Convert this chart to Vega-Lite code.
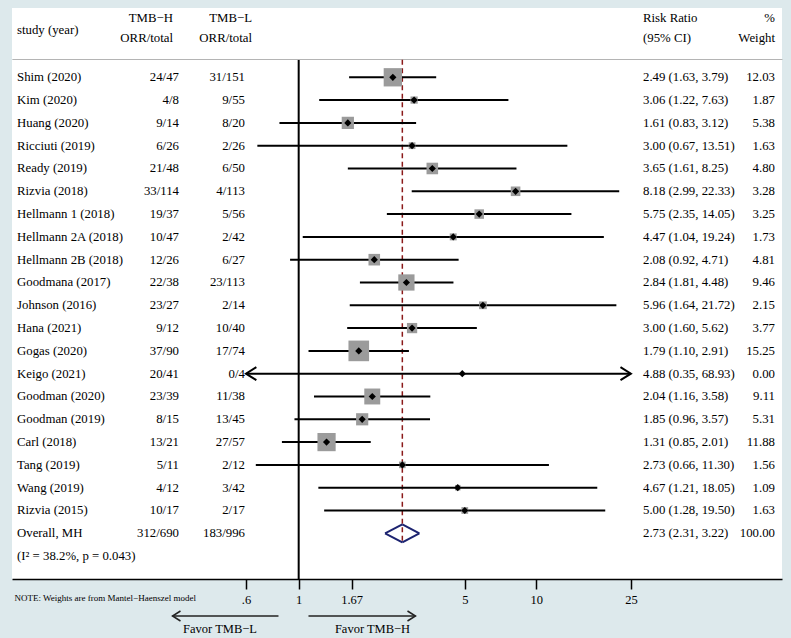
{
  "$schema": "https://vega.github.io/schema/vega-lite/v6.json",
  "padding": {"left": 12, "top": 8, "right": 9, "bottom": 4},
  "background": "#dde9ec",
  "spacing": 0,
  "config": {
    "view": {"stroke": null},
    "text": {"font": "Liberation Serif", "fontSize": 12.8, "color": "#000000", "baseline": "middle"},
    "axis": {"labelFont": "Liberation Serif", "titleFont": "Liberation Serif", "grid": false}
  },
  "vconcat": [
    {
      "width": 770,
      "height": 51,
      "view": {"fill": "white", "stroke": null},
      "data": {"values": [{}]},
      "layer": [
        {"mark": {"type": "text", "text": "study (year)", "align": "left", "dy": -4},
         "encoding": {"x": {"datum": 0.06527, "type": "quantitative", "scale": {"type": "log", "domain": [0.06217, 108.11], "nice": false}, "axis": {"domain": true, "domainColor": "#b4b4b4", "domainWidth": 1, "ticks": false, "labels": false, "title": null, "grid": false}}}},
        {"mark": {"type": "text", "text": "TMB−H", "align": "right", "dy": -15.5},
         "encoding": {"x": {"datum": 0.2958, "type": "quantitative", "scale": {"type": "log", "domain": [0.06217, 108.11], "nice": false}, "axis": {"domain": true, "domainColor": "#b4b4b4", "domainWidth": 1, "ticks": false, "labels": false, "title": null, "grid": false}}}},
        {"mark": {"type": "text", "text": "ORR/total", "align": "right", "dy": 4.5},
         "encoding": {"x": {"datum": 0.2958, "type": "quantitative", "scale": {"type": "log", "domain": [0.06217, 108.11], "nice": false}, "axis": {"domain": true, "domainColor": "#b4b4b4", "domainWidth": 1, "ticks": false, "labels": false, "title": null, "grid": false}}}},
        {"mark": {"type": "text", "text": "TMB−L", "align": "right", "dy": -15.5},
         "encoding": {"x": {"datum": 0.636, "type": "quantitative", "scale": {"type": "log", "domain": [0.06217, 108.11], "nice": false}, "axis": {"domain": true, "domainColor": "#b4b4b4", "domainWidth": 1, "ticks": false, "labels": false, "title": null, "grid": false}}}},
        {"mark": {"type": "text", "text": "ORR/total", "align": "right", "dy": 4.5},
         "encoding": {"x": {"datum": 0.636, "type": "quantitative", "scale": {"type": "log", "domain": [0.06217, 108.11], "nice": false}, "axis": {"domain": true, "domainColor": "#b4b4b4", "domainWidth": 1, "ticks": false, "labels": false, "title": null, "grid": false}}}},
        {"mark": {"type": "text", "text": "Risk Ratio", "align": "left", "dy": -15.5},
         "encoding": {"x": {"datum": 28.11, "type": "quantitative", "scale": {"type": "log", "domain": [0.06217, 108.11], "nice": false}, "axis": {"domain": true, "domainColor": "#b4b4b4", "domainWidth": 1, "ticks": false, "labels": false, "title": null, "grid": false}}}},
        {"mark": {"type": "text", "text": "(95% CI)", "align": "left", "dy": 4.5},
         "encoding": {"x": {"datum": 28.11, "type": "quantitative", "scale": {"type": "log", "domain": [0.06217, 108.11], "nice": false}, "axis": {"domain": true, "domainColor": "#b4b4b4", "domainWidth": 1, "ticks": false, "labels": false, "title": null, "grid": false}}}},
        {"mark": {"type": "text", "text": "%", "align": "right", "dy": -15.5},
         "encoding": {"x": {"datum": 101.02, "type": "quantitative", "scale": {"type": "log", "domain": [0.06217, 108.11], "nice": false}, "axis": {"domain": true, "domainColor": "#b4b4b4", "domainWidth": 1, "ticks": false, "labels": false, "title": null, "grid": false}}}},
        {"mark": {"type": "text", "text": "Weight", "align": "right", "dy": 4.5},
         "encoding": {"x": {"datum": 101.02, "type": "quantitative", "scale": {"type": "log", "domain": [0.06217, 108.11], "nice": false}, "axis": {"domain": true, "domainColor": "#b4b4b4", "domainWidth": 1, "ticks": false, "labels": false, "title": null, "grid": false}}}}
      ]
    },
    {
      "width": 770,
      "height": 519,
      "view": {"fill": "white", "stroke": null},
      "data": {"values": [
        {"study": "Shim (2020)", "type": "study", "h": "24/47", "l": "31/151", "est": 2.49, "lo": 1.63, "hi": 3.79, "ci": "2.49 (1.63, 3.79)", "weight": 12.03},
        {"study": "Kim (2020)", "type": "study", "h": "4/8", "l": "9/55", "est": 3.06, "lo": 1.22, "hi": 7.63, "ci": "3.06 (1.22, 7.63)", "weight": 1.87},
        {"study": "Huang (2020)", "type": "study", "h": "9/14", "l": "8/20", "est": 1.61, "lo": 0.83, "hi": 3.12, "ci": "1.61 (0.83, 3.12)", "weight": 5.38},
        {"study": "Ricciuti (2019)", "type": "study", "h": "6/26", "l": "2/26", "est": 3.0, "lo": 0.67, "hi": 13.51, "ci": "3.00 (0.67, 13.51)", "weight": 1.63},
        {"study": "Ready (2019)", "type": "study", "h": "21/48", "l": "6/50", "est": 3.65, "lo": 1.61, "hi": 8.25, "ci": "3.65 (1.61, 8.25)", "weight": 4.8},
        {"study": "Rizvia (2018)", "type": "study", "h": "33/114", "l": "4/113", "est": 8.18, "lo": 2.99, "hi": 22.33, "ci": "8.18 (2.99, 22.33)", "weight": 3.28},
        {"study": "Hellmann 1 (2018)", "type": "study", "h": "19/37", "l": "5/56", "est": 5.75, "lo": 2.35, "hi": 14.05, "ci": "5.75 (2.35, 14.05)", "weight": 3.25},
        {"study": "Hellmann 2A (2018)", "type": "study", "h": "10/47", "l": "2/42", "est": 4.47, "lo": 1.04, "hi": 19.24, "ci": "4.47 (1.04, 19.24)", "weight": 1.73},
        {"study": "Hellmann 2B (2018)", "type": "study", "h": "12/26", "l": "6/27", "est": 2.08, "lo": 0.92, "hi": 4.71, "ci": "2.08 (0.92, 4.71)", "weight": 4.81},
        {"study": "Goodmana (2017)", "type": "study", "h": "22/38", "l": "23/113", "est": 2.84, "lo": 1.81, "hi": 4.48, "ci": "2.84 (1.81, 4.48)", "weight": 9.46},
        {"study": "Johnson (2016)", "type": "study", "h": "23/27", "l": "2/14", "est": 5.96, "lo": 1.64, "hi": 21.72, "ci": "5.96 (1.64, 21.72)", "weight": 2.15},
        {"study": "Hana (2021)", "type": "study", "h": "9/12", "l": "10/40", "est": 3.0, "lo": 1.6, "hi": 5.62, "ci": "3.00 (1.60, 5.62)", "weight": 3.77},
        {"study": "Gogas (2020)", "type": "study", "h": "37/90", "l": "17/74", "est": 1.79, "lo": 1.1, "hi": 2.91, "ci": "1.79 (1.10, 2.91)", "weight": 15.25},
        {"study": "Keigo (2021)", "type": "study", "h": "20/41", "l": "0/4", "est": 4.88, "lo": 0.35, "hi": 68.93, "ci": "4.88 (0.35, 68.93)", "weight": 0.0},
        {"study": "Goodman (2020)", "type": "study", "h": "23/39", "l": "11/38", "est": 2.04, "lo": 1.16, "hi": 3.58, "ci": "2.04 (1.16, 3.58)", "weight": 9.11},
        {"study": "Goodman (2019)", "type": "study", "h": "8/15", "l": "13/45", "est": 1.85, "lo": 0.96, "hi": 3.57, "ci": "1.85 (0.96, 3.57)", "weight": 5.31},
        {"study": "Carl (2018)", "type": "study", "h": "13/21", "l": "27/57", "est": 1.31, "lo": 0.85, "hi": 2.01, "ci": "1.31 (0.85, 2.01)", "weight": 11.88},
        {"study": "Tang (2019)", "type": "study", "h": "5/11", "l": "2/12", "est": 2.73, "lo": 0.66, "hi": 11.3, "ci": "2.73 (0.66, 11.30)", "weight": 1.56},
        {"study": "Wang (2019)", "type": "study", "h": "4/12", "l": "3/42", "est": 4.67, "lo": 1.21, "hi": 18.05, "ci": "4.67 (1.21, 18.05)", "weight": 1.09},
        {"study": "Rizvia (2015)", "type": "study", "h": "10/17", "l": "2/17", "est": 5.0, "lo": 1.28, "hi": 19.5, "ci": "5.00 (1.28, 19.50)", "weight": 1.63},
        {"study": "Overall, MH", "type": "overall", "h": "312/690", "l": "183/996", "est": 2.73, "lo": 2.31, "hi": 3.22, "ci": "2.73 (2.31, 3.22)", "weight": 100.0},
        {"study": "(I² = 38.2%, p = 0.043)", "type": "note"}
      ]},
      "layer": [
        {"data": {"values": [{}]},
         "mark": {"type": "rule", "color": "#000000", "strokeWidth": 2},
         "encoding": {"x": {"datum": 1, "type": "quantitative", "scale": {"type": "log", "domain": [0.06217, 108.11], "nice": false},
           "axis": {"values": [0.6, 1, 1.67, 5, 10, 25], "format": "~g", "labelExpr": "datum.value == 0.6 ? '.6' : datum.label", "domain": true, "domainColor": "#000000", "domainWidth": 1.5, "ticks": true, "tickColor": "#000000", "tickWidth": 1.5, "tickSize": 10, "labels": true, "labelFontSize": 12.5, "labelColor": "#000000", "labelPadding": 4, "labelFlush": false, "labelOverlap": false, "grid": false,
             "title": "NOTE: Weights are from Mantel−Haenszel model", "titleFontSize": 9, "titleFontWeight": "normal", "titleColor": "#000000", "titleAnchor": "start", "titleAlign": "left", "titleBaseline": "middle", "titleX": 2, "titleY": 18}}}},
        {"transform": [{"filter": "datum.type == 'overall'"}],
         "mark": {"type": "rule", "color": "#8b1a1a", "strokeWidth": 1.5, "strokeDash": [5, 3.5], "yOffset": -17.5, "y2Offset": 10},
         "encoding": {"x": {"field": "est", "type": "quantitative", "scale": {"type": "log", "domain": [0.06217, 108.11], "nice": false}},
           "y": {"datum": "Shim (2020)", "type": "nominal", "scale": {"type": "point", "domain": ["Shim (2020)", "Kim (2020)", "Huang (2020)", "Ricciuti (2019)", "Ready (2019)", "Rizvia (2018)", "Hellmann 1 (2018)", "Hellmann 2A (2018)", "Hellmann 2B (2018)", "Goodmana (2017)", "Johnson (2016)", "Hana (2021)", "Gogas (2020)", "Keigo (2021)", "Goodman (2020)", "Goodman (2019)", "Carl (2018)", "Tang (2019)", "Wang (2019)", "Rizvia (2015)", "Overall, MH", "(I² = 38.2%, p = 0.043)"], "padding": 0.8816, "align": 0.43}, "axis": null},
           "y2": {"datum": "Overall, MH"}}},
        {"transform": [{"filter": "datum.type == 'study' && datum.lo >= 0.6 && datum.hi <= 25"}],
         "mark": {"type": "rule", "color": "#000000", "strokeWidth": 2},
         "encoding": {"x": {"field": "lo", "type": "quantitative", "scale": {"type": "log", "domain": [0.06217, 108.11], "nice": false}},
           "x2": {"field": "hi"},
           "y": {"field": "study", "type": "nominal", "scale": {"type": "point", "domain": ["Shim (2020)", "Kim (2020)", "Huang (2020)", "Ricciuti (2019)", "Ready (2019)", "Rizvia (2018)", "Hellmann 1 (2018)", "Hellmann 2A (2018)", "Hellmann 2B (2018)", "Goodmana (2017)", "Johnson (2016)", "Hana (2021)", "Gogas (2020)", "Keigo (2021)", "Goodman (2020)", "Goodman (2019)", "Carl (2018)", "Tang (2019)", "Wang (2019)", "Rizvia (2015)", "Overall, MH", "(I² = 38.2%, p = 0.043)"], "padding": 0.8816, "align": 0.43}, "axis": null}}},
        {"transform": [{"filter": "datum.type == 'study' && (datum.lo < 0.6 || datum.hi > 25)"}],
         "mark": {"type": "rule", "color": "#000000", "strokeWidth": 2},
         "encoding": {"x": {"datum": 0.6, "type": "quantitative", "scale": {"type": "log", "domain": [0.06217, 108.11], "nice": false}},
           "x2": {"datum": 25},
           "y": {"field": "study", "type": "nominal", "scale": {"type": "point", "domain": ["Shim (2020)", "Kim (2020)", "Huang (2020)", "Ricciuti (2019)", "Ready (2019)", "Rizvia (2018)", "Hellmann 1 (2018)", "Hellmann 2A (2018)", "Hellmann 2B (2018)", "Goodmana (2017)", "Johnson (2016)", "Hana (2021)", "Gogas (2020)", "Keigo (2021)", "Goodman (2020)", "Goodman (2019)", "Carl (2018)", "Tang (2019)", "Wang (2019)", "Rizvia (2015)", "Overall, MH", "(I² = 38.2%, p = 0.043)"], "padding": 0.8816, "align": 0.43}, "axis": null}}},
        {"transform": [{"filter": "datum.type == 'study' && datum.lo < 0.6"}],
         "mark": {"type": "point", "shape": "M 1.6 -1 L 0 0 L 1.6 1", "filled": false, "stroke": "#000000", "strokeWidth": 2, "size": 169, "opacity": 1},
         "encoding": {"x": {"datum": 0.6, "type": "quantitative", "scale": {"type": "log", "domain": [0.06217, 108.11], "nice": false}},
           "y": {"field": "study", "type": "nominal", "scale": {"type": "point", "domain": ["Shim (2020)", "Kim (2020)", "Huang (2020)", "Ricciuti (2019)", "Ready (2019)", "Rizvia (2018)", "Hellmann 1 (2018)", "Hellmann 2A (2018)", "Hellmann 2B (2018)", "Goodmana (2017)", "Johnson (2016)", "Hana (2021)", "Gogas (2020)", "Keigo (2021)", "Goodman (2020)", "Goodman (2019)", "Carl (2018)", "Tang (2019)", "Wang (2019)", "Rizvia (2015)", "Overall, MH", "(I² = 38.2%, p = 0.043)"], "padding": 0.8816, "align": 0.43}, "axis": null}}},
        {"transform": [{"filter": "datum.type == 'study' && datum.hi > 25"}],
         "mark": {"type": "point", "shape": "M -1.6 -1 L 0 0 L -1.6 1", "filled": false, "stroke": "#000000", "strokeWidth": 2, "size": 169, "opacity": 1},
         "encoding": {"x": {"datum": 25, "type": "quantitative", "scale": {"type": "log", "domain": [0.06217, 108.11], "nice": false}},
           "y": {"field": "study", "type": "nominal", "scale": {"type": "point", "domain": ["Shim (2020)", "Kim (2020)", "Huang (2020)", "Ricciuti (2019)", "Ready (2019)", "Rizvia (2018)", "Hellmann 1 (2018)", "Hellmann 2A (2018)", "Hellmann 2B (2018)", "Goodmana (2017)", "Johnson (2016)", "Hana (2021)", "Gogas (2020)", "Keigo (2021)", "Goodman (2020)", "Goodman (2019)", "Carl (2018)", "Tang (2019)", "Wang (2019)", "Rizvia (2015)", "Overall, MH", "(I² = 38.2%, p = 0.043)"], "padding": 0.8816, "align": 0.43}, "axis": null}}},
        {"transform": [{"filter": "datum.type == 'study'"}],
         "mark": {"type": "point", "shape": "square", "filled": true, "color": "#9b9b9b", "opacity": 1},
         "encoding": {"x": {"field": "est", "type": "quantitative", "scale": {"type": "log", "domain": [0.06217, 108.11], "nice": false}},
           "y": {"field": "study", "type": "nominal", "scale": {"type": "point", "domain": ["Shim (2020)", "Kim (2020)", "Huang (2020)", "Ricciuti (2019)", "Ready (2019)", "Rizvia (2018)", "Hellmann 1 (2018)", "Hellmann 2A (2018)", "Hellmann 2B (2018)", "Goodmana (2017)", "Johnson (2016)", "Hana (2021)", "Gogas (2020)", "Keigo (2021)", "Goodman (2020)", "Goodman (2019)", "Carl (2018)", "Tang (2019)", "Wang (2019)", "Rizvia (2015)", "Overall, MH", "(I² = 38.2%, p = 0.043)"], "padding": 0.8816, "align": 0.43}, "axis": null},
           "size": {"field": "weight", "type": "quantitative", "scale": {"type": "linear", "domain": [0, 20], "range": [0, 558], "zero": true}, "legend": null}}},
        {"transform": [{"filter": "datum.type == 'study'"}],
         "mark": {"type": "point", "shape": "diamond", "filled": true, "color": "#000000", "size": 52, "opacity": 1},
         "encoding": {"x": {"field": "est", "type": "quantitative", "scale": {"type": "log", "domain": [0.06217, 108.11], "nice": false}},
           "y": {"field": "study", "type": "nominal", "scale": {"type": "point", "domain": ["Shim (2020)", "Kim (2020)", "Huang (2020)", "Ricciuti (2019)", "Ready (2019)", "Rizvia (2018)", "Hellmann 1 (2018)", "Hellmann 2A (2018)", "Hellmann 2B (2018)", "Goodmana (2017)", "Johnson (2016)", "Hana (2021)", "Gogas (2020)", "Keigo (2021)", "Goodman (2020)", "Goodman (2019)", "Carl (2018)", "Tang (2019)", "Wang (2019)", "Rizvia (2015)", "Overall, MH", "(I² = 38.2%, p = 0.043)"], "padding": 0.8816, "align": 0.43}, "axis": null}}},
        {"transform": [{"filter": "datum.type == 'overall'"}],
         "mark": {"type": "rule", "color": "#1c2370", "strokeWidth": 2, "yOffset": 0, "y2Offset": -9},
         "encoding": {"x": {"field": "lo", "type": "quantitative", "scale": {"type": "log", "domain": [0.06217, 108.11], "nice": false}}, "x2": {"field": "est"},
           "y": {"field": "study", "type": "nominal", "scale": {"type": "point", "domain": ["Shim (2020)", "Kim (2020)", "Huang (2020)", "Ricciuti (2019)", "Ready (2019)", "Rizvia (2018)", "Hellmann 1 (2018)", "Hellmann 2A (2018)", "Hellmann 2B (2018)", "Goodmana (2017)", "Johnson (2016)", "Hana (2021)", "Gogas (2020)", "Keigo (2021)", "Goodman (2020)", "Goodman (2019)", "Carl (2018)", "Tang (2019)", "Wang (2019)", "Rizvia (2015)", "Overall, MH", "(I² = 38.2%, p = 0.043)"], "padding": 0.8816, "align": 0.43}, "axis": null}, "y2": {"field": "study"}}},
        {"transform": [{"filter": "datum.type == 'overall'"}],
         "mark": {"type": "rule", "color": "#1c2370", "strokeWidth": 2, "yOffset": -9, "y2Offset": 0},
         "encoding": {"x": {"field": "est", "type": "quantitative", "scale": {"type": "log", "domain": [0.06217, 108.11], "nice": false}}, "x2": {"field": "hi"},
           "y": {"field": "study", "type": "nominal", "scale": {"type": "point", "domain": ["Shim (2020)", "Kim (2020)", "Huang (2020)", "Ricciuti (2019)", "Ready (2019)", "Rizvia (2018)", "Hellmann 1 (2018)", "Hellmann 2A (2018)", "Hellmann 2B (2018)", "Goodmana (2017)", "Johnson (2016)", "Hana (2021)", "Gogas (2020)", "Keigo (2021)", "Goodman (2020)", "Goodman (2019)", "Carl (2018)", "Tang (2019)", "Wang (2019)", "Rizvia (2015)", "Overall, MH", "(I² = 38.2%, p = 0.043)"], "padding": 0.8816, "align": 0.43}, "axis": null}, "y2": {"field": "study"}}},
        {"transform": [{"filter": "datum.type == 'overall'"}],
         "mark": {"type": "rule", "color": "#1c2370", "strokeWidth": 2, "yOffset": 0, "y2Offset": 9},
         "encoding": {"x": {"field": "hi", "type": "quantitative", "scale": {"type": "log", "domain": [0.06217, 108.11], "nice": false}}, "x2": {"field": "est"},
           "y": {"field": "study", "type": "nominal", "scale": {"type": "point", "domain": ["Shim (2020)", "Kim (2020)", "Huang (2020)", "Ricciuti (2019)", "Ready (2019)", "Rizvia (2018)", "Hellmann 1 (2018)", "Hellmann 2A (2018)", "Hellmann 2B (2018)", "Goodmana (2017)", "Johnson (2016)", "Hana (2021)", "Gogas (2020)", "Keigo (2021)", "Goodman (2020)", "Goodman (2019)", "Carl (2018)", "Tang (2019)", "Wang (2019)", "Rizvia (2015)", "Overall, MH", "(I² = 38.2%, p = 0.043)"], "padding": 0.8816, "align": 0.43}, "axis": null}, "y2": {"field": "study"}}},
        {"transform": [{"filter": "datum.type == 'overall'"}],
         "mark": {"type": "rule", "color": "#1c2370", "strokeWidth": 2, "yOffset": 9, "y2Offset": 0},
         "encoding": {"x": {"field": "est", "type": "quantitative", "scale": {"type": "log", "domain": [0.06217, 108.11], "nice": false}}, "x2": {"field": "lo"},
           "y": {"field": "study", "type": "nominal", "scale": {"type": "point", "domain": ["Shim (2020)", "Kim (2020)", "Huang (2020)", "Ricciuti (2019)", "Ready (2019)", "Rizvia (2018)", "Hellmann 1 (2018)", "Hellmann 2A (2018)", "Hellmann 2B (2018)", "Goodmana (2017)", "Johnson (2016)", "Hana (2021)", "Gogas (2020)", "Keigo (2021)", "Goodman (2020)", "Goodman (2019)", "Carl (2018)", "Tang (2019)", "Wang (2019)", "Rizvia (2015)", "Overall, MH", "(I² = 38.2%, p = 0.043)"], "padding": 0.8816, "align": 0.43}, "axis": null}, "y2": {"field": "study"}}},
        {"mark": {"type": "text", "align": "left"},
         "encoding": {"x": {"datum": 0.06527, "type": "quantitative", "scale": {"type": "log", "domain": [0.06217, 108.11], "nice": false}},
           "y": {"field": "study", "type": "nominal", "scale": {"type": "point", "domain": ["Shim (2020)", "Kim (2020)", "Huang (2020)", "Ricciuti (2019)", "Ready (2019)", "Rizvia (2018)", "Hellmann 1 (2018)", "Hellmann 2A (2018)", "Hellmann 2B (2018)", "Goodmana (2017)", "Johnson (2016)", "Hana (2021)", "Gogas (2020)", "Keigo (2021)", "Goodman (2020)", "Goodman (2019)", "Carl (2018)", "Tang (2019)", "Wang (2019)", "Rizvia (2015)", "Overall, MH", "(I² = 38.2%, p = 0.043)"], "padding": 0.8816, "align": 0.43}, "axis": null},
           "text": {"field": "study", "type": "nominal"}}},
        {"transform": [{"filter": "datum.type != 'note'"}],
         "mark": {"type": "text", "align": "right"},
         "encoding": {"x": {"datum": 0.3135, "type": "quantitative", "scale": {"type": "log", "domain": [0.06217, 108.11], "nice": false}},
           "y": {"field": "study", "type": "nominal", "scale": {"type": "point", "domain": ["Shim (2020)", "Kim (2020)", "Huang (2020)", "Ricciuti (2019)", "Ready (2019)", "Rizvia (2018)", "Hellmann 1 (2018)", "Hellmann 2A (2018)", "Hellmann 2B (2018)", "Goodmana (2017)", "Johnson (2016)", "Hana (2021)", "Gogas (2020)", "Keigo (2021)", "Goodman (2020)", "Goodman (2019)", "Carl (2018)", "Tang (2019)", "Wang (2019)", "Rizvia (2015)", "Overall, MH", "(I² = 38.2%, p = 0.043)"], "padding": 0.8816, "align": 0.43}, "axis": null},
           "text": {"field": "h", "type": "nominal"}}},
        {"transform": [{"filter": "datum.type != 'note'"}],
         "mark": {"type": "text", "align": "right"},
         "encoding": {"x": {"datum": 0.5943, "type": "quantitative", "scale": {"type": "log", "domain": [0.06217, 108.11], "nice": false}},
           "y": {"field": "study", "type": "nominal", "scale": {"type": "point", "domain": ["Shim (2020)", "Kim (2020)", "Huang (2020)", "Ricciuti (2019)", "Ready (2019)", "Rizvia (2018)", "Hellmann 1 (2018)", "Hellmann 2A (2018)", "Hellmann 2B (2018)", "Goodmana (2017)", "Johnson (2016)", "Hana (2021)", "Gogas (2020)", "Keigo (2021)", "Goodman (2020)", "Goodman (2019)", "Carl (2018)", "Tang (2019)", "Wang (2019)", "Rizvia (2015)", "Overall, MH", "(I² = 38.2%, p = 0.043)"], "padding": 0.8816, "align": 0.43}, "axis": null},
           "text": {"field": "l", "type": "nominal"}}},
        {"transform": [{"filter": "datum.type != 'note'"}],
         "mark": {"type": "text", "align": "left"},
         "encoding": {"x": {"datum": 28.11, "type": "quantitative", "scale": {"type": "log", "domain": [0.06217, 108.11], "nice": false}},
           "y": {"field": "study", "type": "nominal", "scale": {"type": "point", "domain": ["Shim (2020)", "Kim (2020)", "Huang (2020)", "Ricciuti (2019)", "Ready (2019)", "Rizvia (2018)", "Hellmann 1 (2018)", "Hellmann 2A (2018)", "Hellmann 2B (2018)", "Goodmana (2017)", "Johnson (2016)", "Hana (2021)", "Gogas (2020)", "Keigo (2021)", "Goodman (2020)", "Goodman (2019)", "Carl (2018)", "Tang (2019)", "Wang (2019)", "Rizvia (2015)", "Overall, MH", "(I² = 38.2%, p = 0.043)"], "padding": 0.8816, "align": 0.43}, "axis": null},
           "text": {"field": "ci", "type": "nominal"}}},
        {"transform": [{"filter": "datum.type != 'note'"}],
         "mark": {"type": "text", "align": "right"},
         "encoding": {"x": {"datum": 101.02, "type": "quantitative", "scale": {"type": "log", "domain": [0.06217, 108.11], "nice": false}},
           "y": {"field": "study", "type": "nominal", "scale": {"type": "point", "domain": ["Shim (2020)", "Kim (2020)", "Huang (2020)", "Ricciuti (2019)", "Ready (2019)", "Rizvia (2018)", "Hellmann 1 (2018)", "Hellmann 2A (2018)", "Hellmann 2B (2018)", "Goodmana (2017)", "Johnson (2016)", "Hana (2021)", "Gogas (2020)", "Keigo (2021)", "Goodman (2020)", "Goodman (2019)", "Carl (2018)", "Tang (2019)", "Wang (2019)", "Rizvia (2015)", "Overall, MH", "(I² = 38.2%, p = 0.043)"], "padding": 0.8816, "align": 0.43}, "axis": null},
           "text": {"field": "weight", "type": "quantitative", "format": ".2f"}}}
      ]
    },
    {
      "width": 770,
      "height": 35,
      "data": {"values": [{}]},
      "layer": [
        {"mark": {"type": "rule", "color": "#222222", "strokeWidth": 1.5},
         "encoding": {"x": {"datum": 0.8222, "type": "quantitative", "scale": {"type": "log", "domain": [0.06217, 108.11], "nice": false}, "axis": null}, "x2": {"datum": 0.2944},
           "y": {"datum": "arrow", "type": "nominal", "scale": {"type": "point", "domain": ["arrow", "label"], "padding": 0.846, "align": 0.4545}, "axis": null}}},
        {"mark": {"type": "point", "shape": "M 1.6 -1 L 0 0 L 1.6 1", "filled": false, "stroke": "#222222", "strokeWidth": 1.5, "size": 100, "opacity": 1},
         "encoding": {"x": {"datum": 0.2944, "type": "quantitative", "scale": {"type": "log", "domain": [0.06217, 108.11], "nice": false}, "axis": null},
           "y": {"datum": "arrow", "type": "nominal", "scale": {"type": "point", "domain": ["arrow", "label"], "padding": 0.846, "align": 0.4545}, "axis": null}}},
        {"mark": {"type": "rule", "color": "#222222", "strokeWidth": 1.5},
         "encoding": {"x": {"datum": 1.0996, "type": "quantitative", "scale": {"type": "log", "domain": [0.06217, 108.11], "nice": false}, "axis": null}, "x2": {"datum": 3.1013},
           "y": {"datum": "arrow", "type": "nominal", "scale": {"type": "point", "domain": ["arrow", "label"], "padding": 0.846, "align": 0.4545}, "axis": null}}},
        {"mark": {"type": "point", "shape": "M -1.6 -1 L 0 0 L -1.6 1", "filled": false, "stroke": "#222222", "strokeWidth": 1.5, "size": 100, "opacity": 1},
         "encoding": {"x": {"datum": 3.1013, "type": "quantitative", "scale": {"type": "log", "domain": [0.06217, 108.11], "nice": false}, "axis": null},
           "y": {"datum": "arrow", "type": "nominal", "scale": {"type": "point", "domain": ["arrow", "label"], "padding": 0.846, "align": 0.4545}, "axis": null}}},
        {"mark": {"type": "text", "text": "Favor TMB−L", "align": "center", "fontSize": 12.5},
         "encoding": {"x": {"datum": 0.4665, "type": "quantitative", "scale": {"type": "log", "domain": [0.06217, 108.11], "nice": false}, "axis": null},
           "y": {"datum": "label", "type": "nominal", "scale": {"type": "point", "domain": ["arrow", "label"], "padding": 0.846, "align": 0.4545}, "axis": null}}},
        {"mark": {"type": "text", "text": "Favor TMB−H", "align": "center", "fontSize": 12.5},
         "encoding": {"x": {"datum": 2.0445, "type": "quantitative", "scale": {"type": "log", "domain": [0.06217, 108.11], "nice": false}, "axis": null},
           "y": {"datum": "label", "type": "nominal", "scale": {"type": "point", "domain": ["arrow", "label"], "padding": 0.846, "align": 0.4545}, "axis": null}}}
      ]
    }
  ]
}
